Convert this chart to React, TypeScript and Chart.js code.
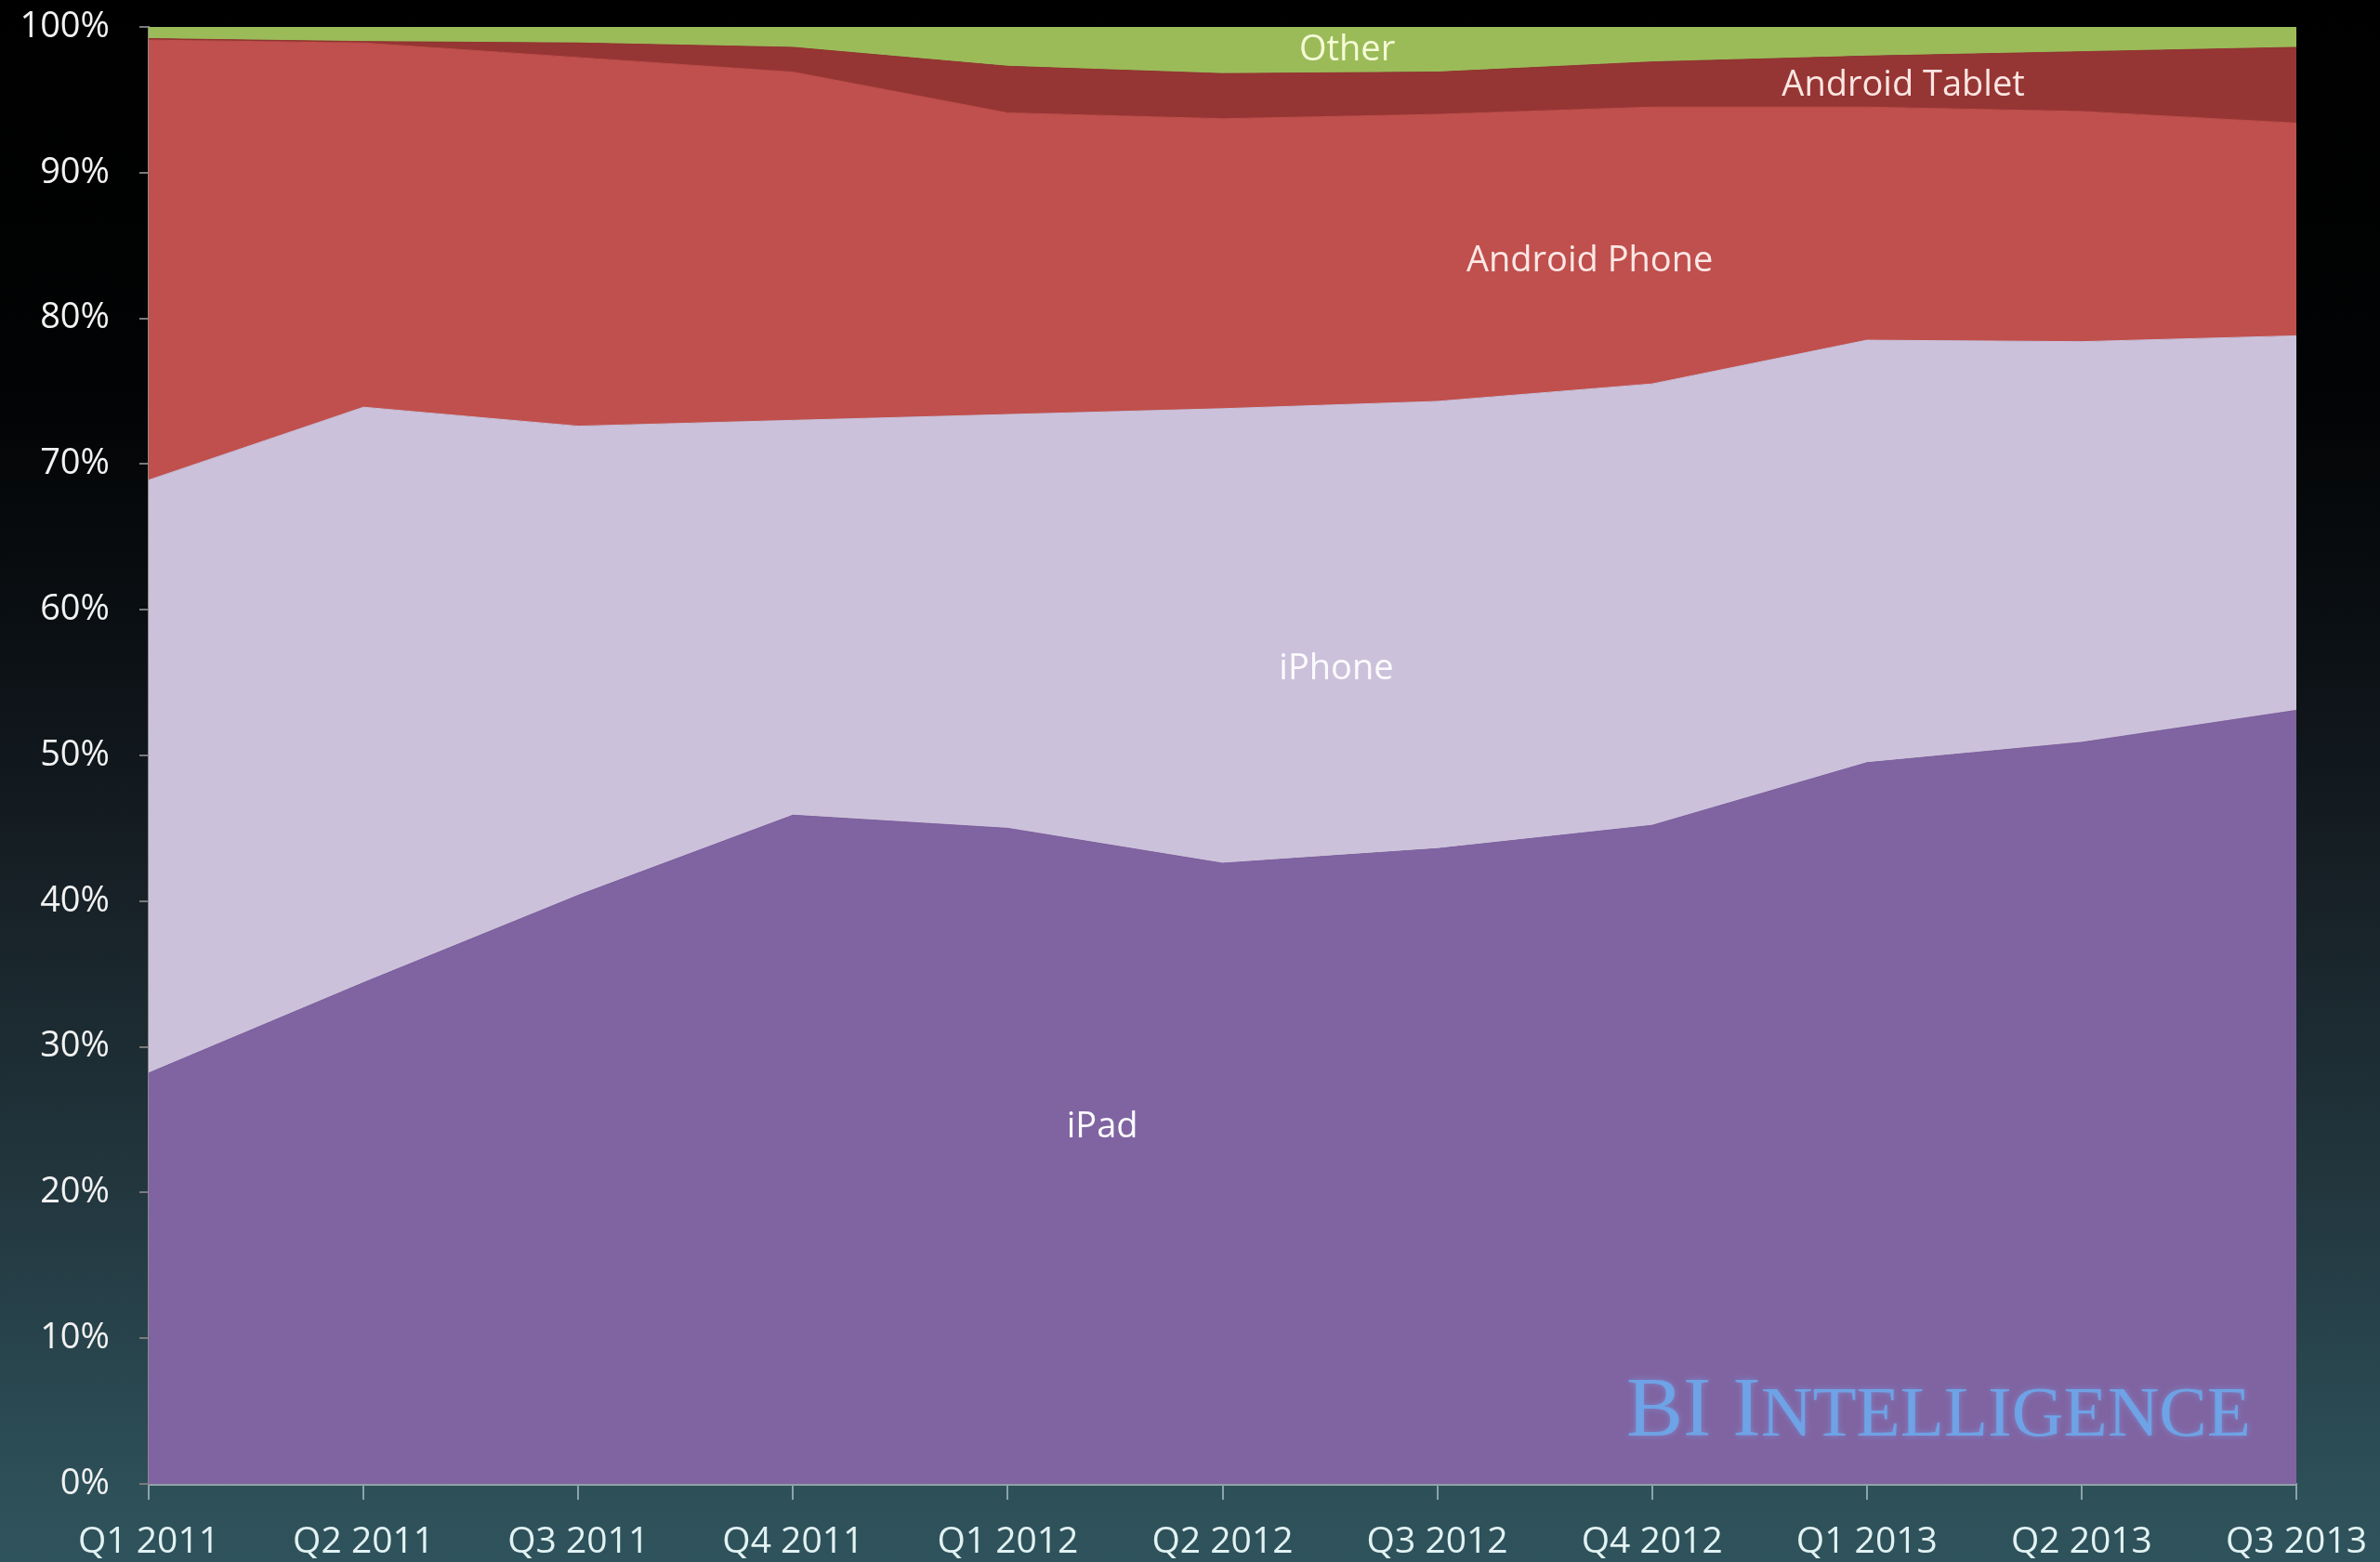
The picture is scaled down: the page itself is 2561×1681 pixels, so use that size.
import React, { useEffect, useRef } from "react";
import { Chart, registerables } from "chart.js";

Chart.register(...registerables);

// ---- Data (share of tablet/phone usage, %) ----
const quarters = [
  "Q1 2011", "Q2 2011", "Q3 2011", "Q4 2011",
  "Q1 2012", "Q2 2012", "Q3 2012", "Q4 2012",
  "Q1 2013", "Q2 2013", "Q3 2013",
];
const seriesNames = ["iPad", "iPhone", "Android Phone", "Android Tablet", "Other"];
const ipad = [28.2, 34.4, 40.4, 45.9, 45.0, 42.6, 43.6, 45.2, 49.5, 50.9, 53.1];
const iphone = [40.7, 39.5, 32.2, 27.1, 28.4, 31.2, 30.7, 30.3, 29.0, 27.5, 25.7];
const androidPhone = [30.2, 25.0, 25.3, 23.9, 20.7, 19.9, 19.7, 19.0, 16.0, 15.8, 14.6];
const androidTablet = [0.1, 0.1, 1.0, 1.7, 3.2, 3.1, 2.9, 3.1, 3.5, 4.1, 5.2];
const other = [0.8, 1.0, 1.1, 1.4, 2.7, 3.2, 3.1, 2.4, 2.0, 1.7, 1.4];
const yMin = 0;
const yMax = 100;
const yStep = 10;

const seriesColors = ["#8064a2", "#ccc1da", "#c0504d", "#963634", "#9bbb59"];

// in-chart series labels: [text, category index (fractional), value %, colour]
const areaLabels: [string, number, number, string][] = [
  ["Other", 5.58, 98.4, "#f4fbd6"],
  ["Android Tablet", 8.17, 96.0, "#fbe6e2"],
  ["Android Phone", 6.71, 83.9, "#fbe8e6"],
  ["iPhone", 5.53, 55.9, "#fbfbfd"],
  ["iPad", 4.44, 24.5, "#fbfbfd"],
];

const FONT = "'Open Sans', 'Noto Sans', sans-serif";

const areaLabelPlugin = {
  id: "areaLabels",
  afterDatasetsDraw(chart: any) {
    const { ctx, scales } = chart;
    ctx.save();
    ctx.font = `400 38px ${FONT}`;
    ctx.textAlign = "center";
    ctx.textBaseline = "middle";
    for (const [text, xi, yv, color] of areaLabels) {
      ctx.fillStyle = color;
      ctx.fillText(text, scales.x.getPixelForValue(xi), scales.y.getPixelForValue(yv));
    }
    ctx.restore();
  },
};

const watermarkPlugin = {
  id: "watermark",
  afterDatasetsDraw(chart: any) {
    const { ctx, chartArea } = chart;
    const parts: [string, number][] = [["BI I", 90], ["NTELLIGENCE", 76]];
    ctx.save();
    let total = 0;
    for (const [t, s] of parts) {
      ctx.font = `400 ${s}px 'Liberation Serif', 'DejaVu Serif', serif`;
      total += ctx.measureText(t).width;
    }
    const targetW = 672;
    const x0 = chartArea.left + 1590;
    const baseline = chartArea.bottom - 52;
    ctx.translate(x0, baseline);
    ctx.scale(targetW / total, 1);
    ctx.textBaseline = "alphabetic";
    ctx.textAlign = "left";
    ctx.shadowColor = "rgba(120,180,255,0.5)";
    ctx.shadowBlur = 6;
    ctx.fillStyle = "rgba(108,168,236,0.88)";
    let x = 0;
    for (const [t, s] of parts) {
      ctx.font = `400 ${s}px 'Liberation Serif', 'DejaVu Serif', serif`;
      ctx.fillText(t, x, 0);
      x += ctx.measureText(t).width;
    }
    ctx.restore();
  },
};

export default function App() {
  const canvasRef = useRef<HTMLCanvasElement | null>(null);

  useEffect(() => {
    document.body.style.margin = "0";
    document.body.style.background = "#000";
    const canvas = canvasRef.current;
    if (!canvas) return;
    const seriesData = [ipad, iphone, androidPhone, androidTablet, other];
    const chart = new Chart(canvas, {
      type: "line",
      data: {
        labels: quarters,
        datasets: seriesData.map((d, i) => ({
          label: seriesNames[i],
          data: d,
          backgroundColor: seriesColors[i],
          borderColor: seriesColors[i],
          borderWidth: 1,
          fill: i === 0 ? "origin" : "-1",
          pointRadius: 0,
          tension: 0,
        })),
      },
      options: {
        animation: false,
        responsive: false,
        maintainAspectRatio: false,
        devicePixelRatio: 1,
        layout: { padding: { top: 29, right: 90, left: 0, bottom: 0 } },
        plugins: {
          legend: { display: false },
          tooltip: { enabled: false },
          title: { display: false },
        },
        scales: {
          x: {
            grid: {
              display: true,
              drawOnChartArea: false,
              drawTicks: true,
              tickLength: 17,
              color: "rgba(160,185,190,0.8)",
              lineWidth: 2,
            },
            border: { display: true, color: "#8ea2a8", width: 3 },
            ticks: {
              color: "#e2f2f2",
              font: { family: FONT, size: 39 },
              padding: 22,
              maxRotation: 0,
              autoSkip: false,
            },
            afterFit: (s: any) => {
              s.height = 84;
              s.paddingLeft = 0;
              s.paddingRight = 0;
            },
          },
          y: {
            stacked: true,
            min: yMin,
            max: yMax,
            ticks: {
              stepSize: yStep,
              callback: (v: any) => `${v}%`,
              color: "#f2f2f2",
              font: { family: FONT, size: 38 },
              padding: 32,
            },
            grid: {
              display: true,
              drawOnChartArea: false,
              drawTicks: true,
              tickLength: 10,
              color: "#7a7a7a",
              lineWidth: 2,
            },
            border: { display: true, color: "#8a8a8a", width: 2 },
            afterFit: (s: any) => {
              s.width = 160;
              s.paddingTop = 0;
              s.paddingBottom = 0;
            },
          },
        },
      } as any,
      plugins: [areaLabelPlugin, watermarkPlugin],
    });
    return () => chart.destroy();
  }, []);

  return (
    <div
      style={{
        width: 2561,
        height: 1681,
        background:
          "linear-gradient(to bottom, #000000 0%, #020304 25%, #0c1115 42%, #172127 57%, #22353d 75%, #2d4f58 95%, #2f535c 100%)",
      }}
    >
      <canvas ref={canvasRef} width={2561} height={1681} style={{ display: "block" }} />
    </div>
  );
}
